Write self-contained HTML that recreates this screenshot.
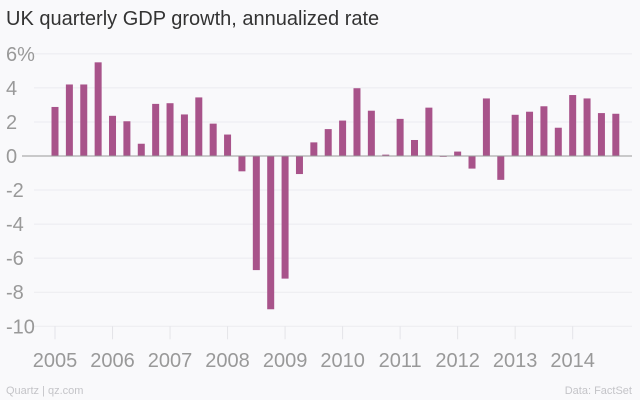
<!DOCTYPE html>
<html><head><meta charset="utf-8"><style>
body{margin:0;background:#fff;}
svg{display:block;font-family:"Liberation Sans",sans-serif;}
</style></head><body>
<svg width="640" height="400">
<rect x="0" y="0" width="640" height="400" fill="#f9f9fb"/>
<text x="6" y="25" font-size="20" fill="#333">UK quarterly GDP growth, annualized rate</text>
<g id="grid"></g><g id="bars"></g><g id="axes"></g>
<text x="6" y="394" font-size="11" fill="#c4c4c8">Quartz | qz.com</text>
<text x="632" y="394" font-size="11" fill="#c4c4c8" text-anchor="end">Data: FactSet</text>
</svg>
<script>
const values=[2.88,4.2,4.2,5.5,2.36,2.04,0.72,3.06,3.1,2.44,3.44,1.9,1.26,-0.9,-6.7,-9.0,-7.2,-1.06,0.8,1.58,2.08,3.98,2.66,0.08,2.18,0.94,2.84,-0.05,0.26,-0.74,3.38,-1.4,2.42,2.6,2.92,1.66,3.58,3.38,2.52,2.48];
const yTicks=[6,4,2,0,-2,-4,-6,-8,-10];
const yLabels=["6%","4","2","0","-2","-4","-6","-8","-10"];
const years=["2005","2006","2007","2008","2009","2010","2011","2012","2013","2014"];
const NS="http://www.w3.org/2000/svg";
const y=v=>156-v*17.03;
const x=i=>55+i*14.38;
function mk(t,a,p){const e=document.createElementNS(NS,t);for(const k in a)e.setAttribute(k,a[k]);p.appendChild(e);return e;}
const grid=document.getElementById('grid'),bars=document.getElementById('bars'),axes=document.getElementById('axes');
yTicks.forEach((v,i)=>{
 if(v!==0){const l=mk('line',{x1:34,x2:632,y1:y(v),y2:y(v),stroke:'#ececf0','stroke-width':1},grid);
 
 }
 const t=mk('text',{x:6,y:y(v)+7,'font-size':20,fill:'#999'},axes);t.textContent=yLabels[i];
 
 
});
values.forEach((v,i)=>{
 const r=mk('rect',{x:x(i)-3.5,width:7,y:Math.min(y(v),y(0)),height:Math.max(Math.abs(y(v)-y(0)),0.8),fill:'#a8538a'},bars);
 
 
});
const z=mk('line',{x1:22,x2:632,y1:y(0),y2:y(0),stroke:'#999','stroke-width':1},axes);


years.forEach((s,i)=>{
 const xx=x(i*4);
 const tk=mk('line',{x1:xx,x2:xx,y1:y(-10),y2:y(-10)+13,stroke:'#e4e4e8'},axes);
 
 
 const t=mk('text',{x:xx,y:367,'font-size':20,fill:'#999','text-anchor':'middle'},axes);t.textContent=s;
 
 
});
</script>
</body></html>
